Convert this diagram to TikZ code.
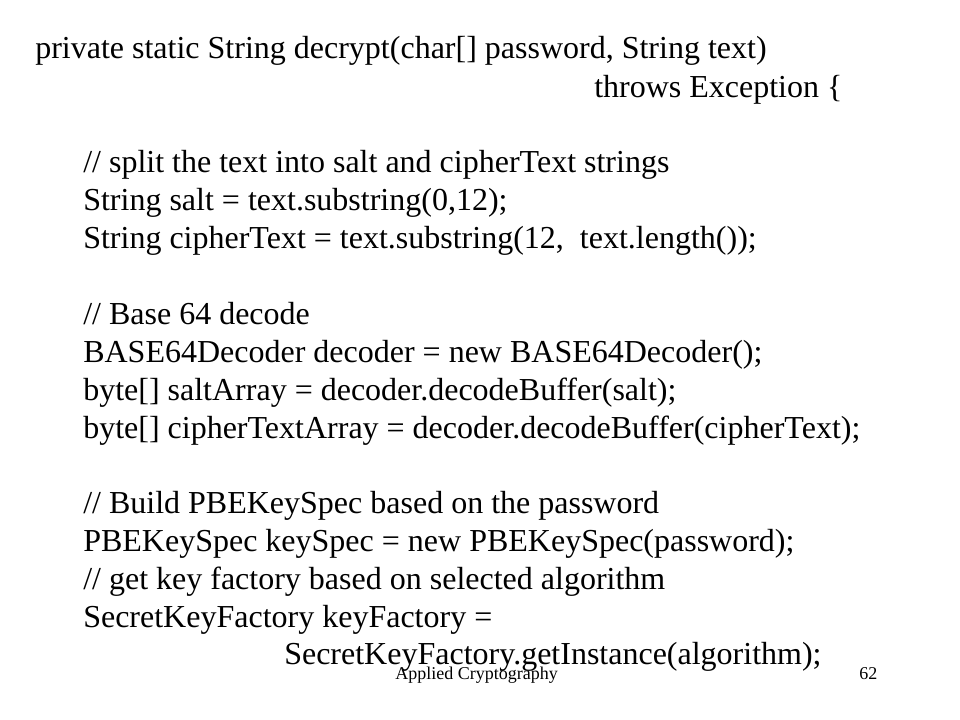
\documentclass[tikz,border=0pt]{standalone}
\usepackage{fontspec}
\setmainfont[Ligatures=NoCommon]{Liberation Serif}
\begin{document}
\begin{tikzpicture}[x=0.75pt,y=-0.75pt,
  code/.style={anchor=base west,inner sep=0pt,font=\fontsize{24}{28}\selectfont},
  foot/.style={anchor=base west,inner sep=0pt,font=\fontsize{13.5}{16}\selectfont}]
\useasboundingbox (0,0) rectangle (960,720);
\node[code] (l1) at (35,59) {private static String decrypt(char[] password, String text)};
\node[code] (l2) at (594,98) {throws Exception \{};
\node[code] (l3) at (83,173) {// split the text into salt and cipherText strings};
\node[code] (l4) at (83,211) {String salt = text.substring(0,12);};
\node[code] (l5) at (83,249) {String cipherText = text.substring(12,\ \ text.length());};
\node[code] (l6) at (83,325) {// Base 64 decode};
\node[code] (l7) at (83,362) {BASE64Decoder decoder = new BASE64Decoder();};
\node[code] (l8) at (83,400) {byte[] saltArray = decoder.decodeBuffer(salt);};
\node[code] (l9) at (83,438) {byte[] cipherTextArray = decoder.decodeBuffer(cipherText);};
\node[code] (l10) at (83,513) {// Build PBEKeySpec based on the password};
\node[code] (l11) at (83,551) {PBEKeySpec keySpec = new PBEKeySpec(password);};
\node[code] (l12) at (83,589) {// get key factory based on selected algorithm};
\node[code] (l13) at (83,627) {SecretKeyFactory keyFactory =};
\node[code] (l14) at (284,664) {SecretKeyFactory.getInstance(algorithm);};
\node[foot] (f1) at (395,679) {Applied Cryptography};
\node[foot] (f2) at (859,679) {62};
\end{tikzpicture}
\end{document}
